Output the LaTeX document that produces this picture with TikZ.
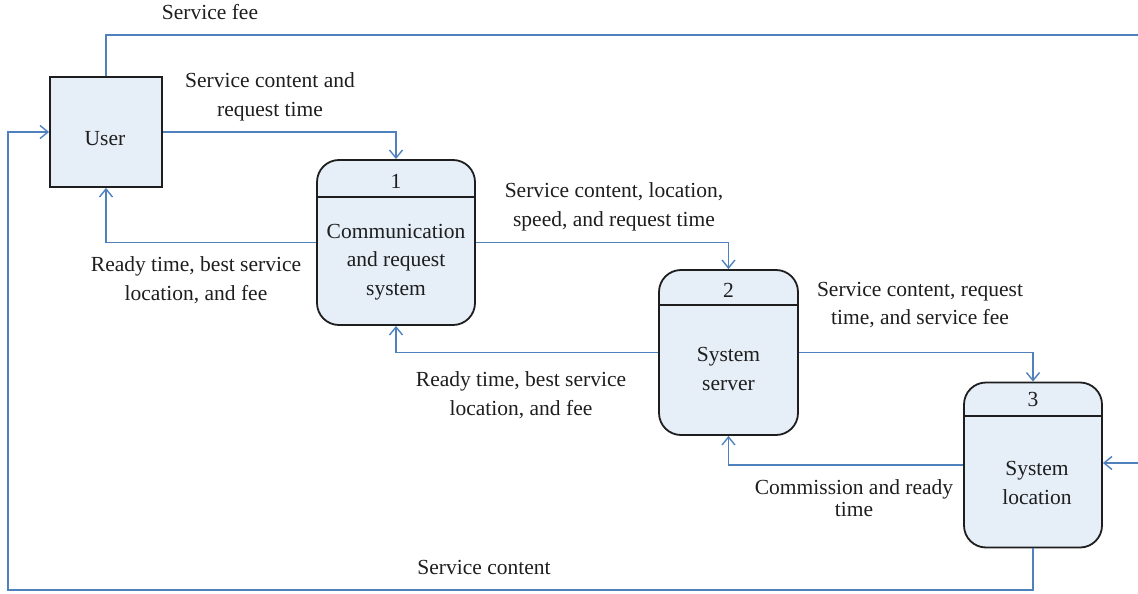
\documentclass[tikz,border=0pt]{standalone}
\usepackage{fontspec}
\setmainfont{Liberation Serif}
\usetikzlibrary{arrows.meta}
\definecolor{flow}{RGB}{79,129,189}
\definecolor{boxfill}{RGB}{230,238,248}
\definecolor{ink}{RGB}{30,30,30}
\begin{document}
\begin{tikzpicture}[x=1pt,y=-1pt,
  flowline/.style={draw=flow,line width=1.4pt},
  arr/.style={flowline,-{Straight Barb[length=8pt,width=13pt,line width=1.4pt]}},
  entity/.style={draw=ink,line width=1.8pt,fill=boxfill,minimum width=112pt,minimum height=110pt,inner sep=0pt},
  process/.style={draw=ink,line width=1.8pt,fill=boxfill,rounded corners=22pt,minimum height=165pt,inner sep=0pt},
  divider/.style={draw=ink,line width=1.8pt},
  txt/.style={font=\fontsize{21.5}{28.5}\selectfont,align=center,text=ink,inner sep=0pt},
  lbl/.style={font=\fontsize{21.5}{28.5}\selectfont,align=center,text=ink,inner sep=0pt}]
\useasboundingbox (0,0) rectangle (1138,594);

% external entity and the three processes
\node[entity] (user) at (106,132) {};
\node[process,minimum width=158pt] (p1) at (396,242.5) {};
\node[process,minimum width=139pt] (p2) at (728.5,352.5) {};
\node[process,minimum width=138pt] (p3) at (1033,465) {};

\draw[divider] (p1.west |- 0,197) -- (p1.east |- 0,197);
\draw[divider] (p2.west |- 0,305) -- (p2.east |- 0,305);
\draw[divider] (p3.west |- 0,416) -- (p3.east |- 0,416);

\node[txt] (usertxt) at (105,139) {User};
\node[txt] (p1num) at (396,181) {1};
\node[txt] (p2num) at (728.5,290) {2};
\node[txt] (p3num) at (1033,399) {3};
\node[txt] (p1txt) at (396,262) {Communication\\and request\\system};
\node[txt] (p2txt) at (728.5,369) {System\\server};
\node[txt] (p3txt) at (1037,483) {System\\location};

% loose ends of the service-fee loop, beyond the right edge
\coordinate (feeTop) at (1160,35);
\coordinate (feeBack) at (1160,463);

% data flows
\draw[arr] (user.east) -| (p1.north);
\draw[arr] (p1.west) -| (user.south);
\draw[arr] (p1.east) -| (p2.north);
\draw[arr] (p2.west) -| (p1.south);
\draw[arr] (p2.east) -| (p3.north);
\draw[arr] (p3.west) -| (p2.south);
\draw[arr] (p3.south) -- (p3.south |- 0,590) -- (8,590) -- (8,132) -- (user.west);
\draw[flowline] (user.north) -- (user.north |- feeTop) -- (feeTop);
\draw[arr] (feeBack) -- (p3.east |- feeBack);

% flow labels
\node[lbl] (l0) at (210,12) {Service fee};
\node[lbl] (l1) at (270,97) {Service content and\\request time};
\node[lbl] (l2) at (196,280) {Ready time, best service\\location, and fee};
\node[lbl] (l3) at (614,207) {Service content, location,\\speed, and request time};
\node[lbl] (l4) at (920,305) {Service content, request\\time, and service fee};
\node[lbl] (l5) at (521,395) {Ready time, best service\\location, and fee};
\node[lbl,font=\fontsize{21.5}{22}\selectfont] (l6) at (854,498) {Commission and ready\\time};
\node[lbl] (l7) at (484,567) {Service content};
\end{tikzpicture}
\end{document}
